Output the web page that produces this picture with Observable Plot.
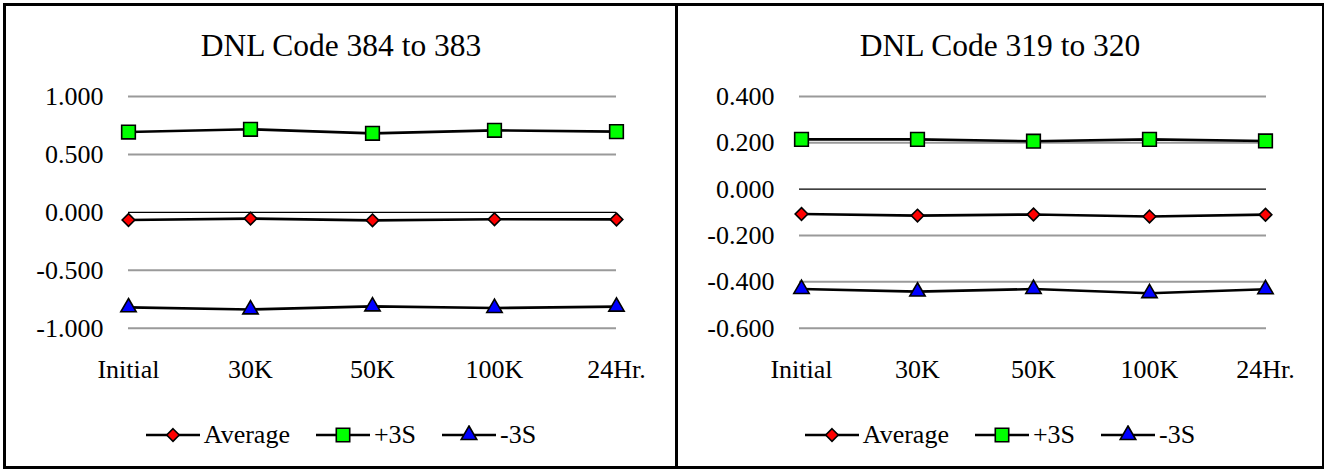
<!DOCTYPE html>
<html>
<head>
<meta charset="utf-8">
<script src="https://cdn.jsdelivr.net/npm/d3@7"></script>
<script src="https://cdn.jsdelivr.net/npm/@observablehq/plot@0.6"></script>
<style>
  html, body { margin: 0; padding: 0; background: #fff; }
  body { width: 1326px; height: 471px; position: relative; overflow: hidden; font-family: "Liberation Serif", "Times New Roman", serif; color: #000; }
  .panel { position: absolute; box-sizing: border-box; border: 3px solid #000; }
  .title { position: absolute; font-size: 31.5px; line-height: 1; white-space: nowrap; text-align: center; }
  .chart { position: absolute; }
  .legend { position: absolute; display: flex; align-items: center; justify-content: center; font-size: 26px; white-space: nowrap; }
  .legend .item { display: flex; align-items: center; margin: 0 13px; }
  .legend svg { display: block; margin-right: 4px; }
</style>
</head>
<body>
<div class="panel" style="left:3px; top:3px; width:675px; height:466px;"></div>
<div class="panel" style="left:675px; top:3px; width:649px; height:466px; border-right-width:2px;"></div>
<div id="left-title" class="title" style="left:5px; width:672px; top:30px;"></div>
<div id="right-title" class="title" style="left:678px; width:644px; top:30px;"></div>
<div id="left-chart" class="chart" style="left:6px; top:80px;"></div>
<div id="right-chart" class="chart" style="left:680px; top:80px;"></div>
<div id="left-legend" class="legend" style="left:5px; width:672px; top:420px; height:30px;"></div>
<div id="right-legend" class="legend" style="left:678px; width:644px; top:420px; height:30px;"></div>
<script>
// ---- Data ----
const categories = ["Initial", "30K", "50K", "100K", "24Hr."];
const seriesNames = ["Average", "+3S", "-3S"];
const seriesColors = ["#ff0000", "#00ff00", "#0000ff"];
const seriesSymbols = ["diamond2", "square", "triangle"];

const leftTitle = "DNL Code 384 to 383";
const leftAverage = [-0.066, -0.054, -0.069, -0.060, -0.061];
const leftPlus3S = [0.693, 0.717, 0.682, 0.708, 0.697];
const leftMinus3S = [-0.820, -0.838, -0.812, -0.826, -0.814];
const leftTicks = [-1.0, -0.5, 0.0, 0.5, 1.0];

const rightTitle = "DNL Code 319 to 320";
const rightAverage = [-0.107, -0.114, -0.109, -0.118, -0.110];
const rightPlus3S = [0.215, 0.215, 0.207, 0.215, 0.208];
const rightMinus3S = [-0.431, -0.442, -0.431, -0.449, -0.432];
const rightTicks = [-0.6, -0.4, -0.2, 0.0, 0.2, 0.4];

function buildRows(avg, plus, minus) {
  const rows = [];
  [avg, plus, minus].forEach((vals, si) => {
    vals.forEach((v, i) => rows.push({ cat: categories[i], value: v, series: seriesNames[si] }));
  });
  return rows;
}

function makeChart(rows, ticks, width, marginLeft) {
  const symR = { "Average": 5.7, "+3S": 7.7, "-3S": 5.7 };
  return Plot.plot({
    width: width,
    height: 310,
    marginTop: 16,
    marginBottom: 62.3,
    marginLeft: marginLeft,
    marginRight: 50,
    style: { fontFamily: "'Liberation Serif', 'Times New Roman', serif", fontSize: "26px", color: "#000", background: "transparent", overflow: "visible" },
    x: { type: "point", domain: categories, padding: 0 },
    y: { domain: [ticks[0], ticks[ticks.length - 1]] },
    r: { type: "identity" },
    symbol: { domain: seriesNames, range: seriesSymbols },
    color: { domain: seriesNames, range: seriesColors },
    marks: [
      Plot.ruleY(ticks.filter(t => t !== 0), { stroke: "#9a9a9a", strokeWidth: 2 }),
      Plot.ruleY([0], { stroke: "#000", strokeWidth: 1.2 }),
      Plot.axisY({ ticks: ticks, tickFormat: d => d.toFixed(3), tickSize: 0, tickPadding: 25, label: null }),
      Plot.axisX({ tickSize: 0, tickPadding: 31, label: null }),
      Plot.line(rows, { x: "cat", y: "value", z: "series", stroke: "#000", strokeWidth: 2.6 }),
      Plot.dot(rows, { x: "cat", y: "value", symbol: "series", fill: "series", stroke: "#000", strokeWidth: 1.6, r: d => symR[d.series] })
    ]
  });
}

function makeLegend(el) {
  seriesNames.forEach((name, i) => {
    const item = document.createElement("div");
    item.className = "item";
    const ns = "http://www.w3.org/2000/svg";
    const svg = document.createElementNS(ns, "svg");
    svg.setAttribute("width", "54");
    svg.setAttribute("height", "20");
    const line = document.createElementNS(ns, "line");
    line.setAttribute("x1", "0"); line.setAttribute("x2", "54");
    line.setAttribute("y1", "10"); line.setAttribute("y2", "10");
    line.setAttribute("stroke", "#000"); line.setAttribute("stroke-width", "2.6");
    svg.appendChild(line);
    const sym = seriesSymbols[i] === "diamond2" ? d3.symbolDiamond2 : seriesSymbols[i] === "square" ? d3.symbolSquare : d3.symbolTriangle;
    const size = seriesSymbols[i] === "diamond2" ? 100 : seriesSymbols[i] === "square" ? 180 : 105;
    const path = document.createElementNS(ns, "path");
    path.setAttribute("d", d3.symbol(sym, size)());
    path.setAttribute("transform", "translate(27,10)");
    path.setAttribute("fill", seriesColors[i]);
    path.setAttribute("stroke", "#000");
    path.setAttribute("stroke-width", "1.6");
    svg.appendChild(path);
    item.appendChild(svg);
    const label = document.createElement("span");
    label.textContent = name;
    item.appendChild(label);
    el.appendChild(item);
  });
}

document.getElementById("left-title").textContent = leftTitle;
document.getElementById("right-title").textContent = rightTitle;
document.getElementById("left-chart").appendChild(makeChart(buildRows(leftAverage, leftPlus3S, leftMinus3S), leftTicks, 660, 122));
document.getElementById("right-chart").appendChild(makeChart(buildRows(rightAverage, rightPlus3S, rightMinus3S), rightTicks, 636, 119));
makeLegend(document.getElementById("left-legend"));
makeLegend(document.getElementById("right-legend"));
</script>
</body>
</html>
